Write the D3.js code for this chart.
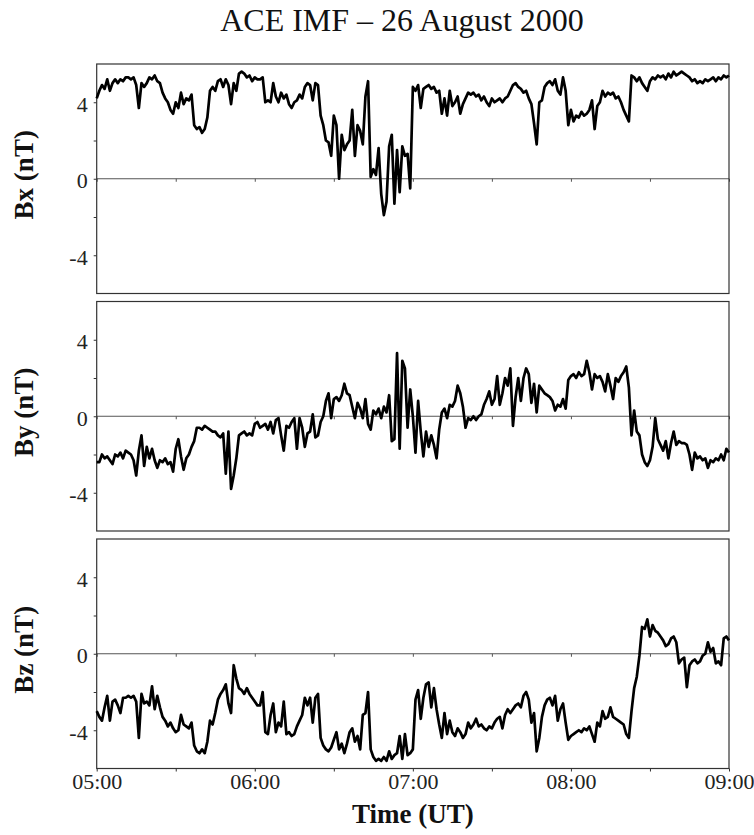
<!DOCTYPE html>
<html>
<head>
<meta charset="utf-8">
<script src="https://cdn.jsdelivr.net/npm/d3@7"></script>
<style>
  body { margin: 0; background: #fff; }
  svg { font-family: "Liberation Serif", "Times New Roman", serif; }
</style>
</head>
<body>
<svg id="chart"></svg>
<script>

const width = 754;
const height = 835;
const left = 96.7;
const right = 729;
const panelTop = [64, 301.5, 539];
const panelHeight = 229.5;

// one sample per minute, 05:00 to 09:00 UT
const startTime = Date.UTC(2000, 7, 26, 5, 0);
const hourTicks = ["05:00", "06:00", "07:00", "08:00", "09:00"];
const yLabelTicks = [4, 0, -4];
const yMinorTicks = [-4, -2, 0, 2, 4];
const panelLabels = ["Bx (nT)", "By (nT)", "Bz (nT)"];

const bx = [
  4.2, 4.6, 4.9, 4.7, 5.2, 4.6, 5.0, 5.2, 5.0, 5.2,
  5.1, 5.3, 5.3, 5.2, 5.3, 4.9, 3.7, 5.0, 4.8, 5.0,
  5.3, 5.2, 5.4, 5.1, 5.0, 4.5, 4.2, 4.0, 3.6, 3.4,
  4.0, 3.7, 4.5, 3.9, 4.2, 4.1, 4.4, 2.8, 2.6, 2.7,
  2.4, 2.6, 3.2, 4.6, 4.8, 4.6, 5.1, 5.2, 4.8, 5.2,
  4.9, 3.9, 5.0, 4.6, 5.5, 5.6, 5.5, 5.3, 5.4, 5.1,
  5.3, 5.2, 5.2, 5.3, 4.0, 4.1, 4.0, 5.0, 4.3, 4.0,
  4.5, 4.2, 4.4, 3.9, 3.7, 4.0, 4.1, 4.4, 4.2, 4.8,
  5.0, 4.9, 4.1, 5.0, 4.9, 3.3, 2.8, 2.0, 1.9, 1.2,
  3.3, 2.8, 0.0, 2.3, 1.5, 1.8, 2.0, 3.6, 1.2, 2.8,
  2.5, 1.8, 4.3, 5.1, 0.1, 0.5, 0.2, 1.6, -0.8, -1.9,
  -1.2, 1.7, 2.3, -1.3, 1.5, -0.7, 1.7, 1.2, 1.3, -0.5,
  4.8, 4.6, 4.9, 3.7, 4.7, 4.8, 4.9, 4.7, 4.8, 4.5,
  4.6, 3.4, 4.2, 3.3, 4.6, 3.8, 4.0, 4.3, 3.4, 3.9,
  4.2, 4.5, 4.4, 4.5, 4.3, 4.4, 4.1, 4.3, 4.0, 3.8,
  4.2, 4.0, 4.1, 4.2, 4.0, 4.2, 4.3, 4.6, 4.9, 5.0,
  4.8, 4.7, 4.5, 4.6, 4.2, 3.9, 2.9, 1.8, 4.0, 4.1,
  4.8, 5.0, 5.1, 4.9, 5.2, 4.6, 4.4, 5.3, 4.6, 2.8,
  3.6, 3.0, 3.3, 3.2, 3.5, 3.3, 3.4, 3.6, 4.1, 2.6,
  3.8, 4.0, 4.6, 4.3, 4.5, 4.4, 4.5, 4.2, 4.3, 4.0,
  3.6, 3.3, 3.0, 5.4, 5.3, 5.1, 5.3, 5.0, 4.8, 4.6,
  5.1, 5.3, 5.2, 5.4, 5.3, 5.4, 5.2, 5.5, 5.3, 5.6,
  5.4, 5.5, 5.6, 5.5, 5.4, 5.3, 5.1, 5.2, 5.0, 5.1,
  5.0, 5.2, 5.1, 5.2, 5.3, 5.1, 5.3, 5.2, 5.4, 5.3, 5.4
];

const by = [
  -2.4, -2.4, -2.0, -2.2, -2.1, -2.3, -2.5, -2.0, -2.1, -1.9,
  -2.2, -1.8, -1.9, -2.0, -2.3, -3.1, -1.8, -1.0, -2.6, -1.6,
  -2.2, -1.7, -2.3, -2.7, -2.3, -2.4, -2.2, -2.5, -2.4, -2.9,
  -1.7, -1.2, -2.1, -2.8, -2.2, -2.0, -1.6, -1.3, -0.6, -0.6,
  -0.7, -0.5, -0.6, -0.7, -0.8, -0.8, -1.0, -1.1, -0.9, -3.0,
  -0.8, -3.8, -3.1, -2.2, -1.0, -0.9, -0.8, -1.0, -0.9, -1.0,
  -0.4, -0.3, -0.6, -0.5, -0.4, -0.7, -0.3, -0.9, -0.2, -0.1,
  -1.0, -1.8, -0.5, -0.6, -0.3, -0.1, -1.7, -0.1, -0.6, -1.6,
  -0.9, -0.8, 0.1, -1.1, -1.0, -0.3, 0.0, 0.8, 1.2, -0.1,
  0.9, 1.0, 0.8, 1.1, 1.7, 1.2, 1.1, 0.5, -0.1, 0.7,
  0.4, -0.1, 0.9, -0.4, -0.7, 0.3, 0.1, 0.4, -0.1, 0.5,
  0.2, 1.1, -1.3, -1.2, 3.3, -1.7, 2.9, 2.5, -0.6, 1.4,
  0.0, -1.9, 0.8, -0.8, -2.1, -0.8, -1.6, -1.0, -1.5, -2.2,
  -0.7, 0.2, 0.4, -0.1, 0.6, 0.5, 0.8, 1.6, 1.2, 0.5,
  -0.6, -0.1, -0.2, 0.0, -0.2, 0.0, 0.1, 0.6, 0.9, 1.3,
  0.6, 0.9, 2.1, 0.6, 1.2, 2.0, 1.6, 2.5, -0.5, 1.0,
  2.0, 0.8, 2.0, 2.5, 2.2, 0.7, 1.7, 0.2, 1.6, 1.4,
  1.2, 1.1, 1.0, 0.8, 0.3, 0.6, 0.5, 0.9, 0.4, 1.9,
  2.1, 2.2, 2.0, 2.3, 2.1, 2.2, 2.9, 2.3, 1.4, 2.2,
  2.0, 2.1, 1.8, 1.3, 2.2, 1.6, 0.9, 2.0, 1.8, 2.1,
  2.3, 2.6, 1.5, -1.0, 0.3, -0.8, -1.0, -2.0, -2.4, -2.6,
  -2.3, -1.6, -0.1, -1.2, -1.5, -1.8, -1.3, -2.2, -1.4, -0.8,
  -1.5, -1.3, -1.4, -1.4, -1.5, -2.0, -2.8, -1.9, -2.2, -2.1,
  -2.3, -2.2, -2.7, -2.3, -2.4, -2.2, -2.3, -2.0, -2.3, -1.7, -1.9
];

const bz = [
  -3.0, -3.3, -3.5, -2.8, -2.2, -3.5, -2.5, -2.4, -2.7, -3.1,
  -2.3, -2.3, -2.2, -2.3, -2.2, -2.5, -4.4, -2.1, -2.6, -2.5,
  -2.7, -1.7, -2.9, -2.2, -2.8, -3.3, -3.5, -3.8, -3.6, -3.9,
  -4.1, -4.0, -3.2, -3.7, -3.8, -3.9, -3.6, -4.8, -5.1, -5.2,
  -5.0, -5.2, -4.6, -3.5, -3.7, -3.1, -2.4, -2.1, -1.9, -1.6,
  -2.6, -3.1, -0.6, -1.3, -1.8, -1.9, -2.1, -1.8, -2.1, -2.3,
  -2.5, -2.7, -2.7, -2.0, -4.1, -4.2, -3.2, -2.6, -4.1, -3.6,
  -3.8, -2.5, -4.2, -4.1, -4.3, -4.2, -3.8, -3.5, -3.2, -2.3,
  -2.7, -2.3, -3.6, -2.3, -2.1, -4.4, -4.8, -5.0, -5.1, -4.9,
  -4.5, -4.1, -5.0, -4.7, -5.2, -4.7, -4.1, -3.9, -4.6, -4.3,
  -5.0, -3.2, -3.1, -2.0, -5.0, -5.4, -5.6, -5.5, -5.6, -5.4,
  -5.6, -5.1, -5.5, -5.3, -5.2, -4.3, -5.5, -4.2, -5.3, -5.2,
  -5.0, -2.4, -1.9, -3.4, -2.3, -1.6, -1.5, -2.8, -1.8, -2.9,
  -3.7, -4.4, -3.1, -4.2, -3.5, -4.1, -4.3, -3.9, -4.1, -4.4,
  -4.2, -3.6, -3.9, -3.7, -3.4, -3.8, -3.7, -3.9, -4.0, -3.8,
  -3.9, -3.6, -3.4, -3.3, -3.9, -3.2, -2.9, -3.1, -2.9, -2.7,
  -2.6, -2.8, -2.2, -2.0, -2.4, -3.6, -3.1, -5.1, -4.4, -3.3,
  -2.7, -2.4, -2.3, -2.7, -2.2, -3.5, -2.9, -2.6, -3.6, -4.5,
  -4.3, -4.2, -4.1, -4.0, -4.1, -3.9, -4.0, -3.8, -4.2, -4.6,
  -3.6, -3.8, -3.0, -3.4, -3.3, -2.8, -3.3, -3.4, -3.5, -3.6,
  -3.7, -4.2, -4.4, -3.0, -1.8, -1.2, -0.1, 1.4, 1.3, 1.8,
  0.9, 1.5, 1.2, 1.1, 0.9, 0.7, 0.4, 0.5, 0.8, 0.9,
  0.6, -0.5, -0.3, -0.2, -1.75, -0.6, -0.4, -0.3, -0.5, -0.4,
  -0.1, 0.0, 0.6, 0.1, 0.3, -0.5, -0.4, -0.6, 0.8, 0.9, 0.7
];

const series = [bx, by, bz];

const timeAt = i => new Date(startTime + i * 60000);

const svg = d3.select("#chart")
              .attr("width", width)
              .attr("height", height);

const xScale = d3.scaleUtc()
                 .domain([timeAt(0), timeAt(240)])
                 .range([left, right]);

const hourDates = hourTicks.map((h, i) => timeAt(i * 60));
const halfHours = d3.utcMinute.every(30).range(timeAt(0), timeAt(241));

svg.append("text")
   .attr("x", 402)
   .attr("y", 31)
   .attr("text-anchor", "middle")
   .style("font-size", "32px")
   .attr("fill", "#111")
   .text("ACE IMF \u2013 26 August 2000");

series.forEach((values, p) => {

    const top = panelTop[p];
    const bottom = top + panelHeight;

    const yScale = d3.scaleLinear()
                     .domain([-6, 6])
                     .range([bottom, top]);

    const g = svg.append("g");

    // zero line with half-hour ticks hanging below it
    g.append("line")
     .attr("x1", left)
     .attr("x2", right)
     .attr("y1", yScale(0))
     .attr("y2", yScale(0))
     .attr("stroke", "#555")
     .attr("stroke-width", 1);

    const zeroAxis = g.append("g")
                      .attr("transform", `translate(0, ${yScale(0)})`)
                      .call(d3.axisBottom(xScale).tickValues(halfHours).tickSize(3).tickFormat(""));
    zeroAxis.select(".domain").remove();
    zeroAxis.selectAll("line").attr("stroke", "#555");

    const yAxis = g.append("g")
                   .attr("transform", `translate(${left}, 0)`)
                   .call(d3.axisLeft(yScale)
                           .tickValues(yMinorTicks)
                           .tickSize(3)
                           .tickPadding(6)
                           .tickFormat(d => yLabelTicks.includes(d) ? String(d) : ""));
    yAxis.select(".domain").remove();
    yAxis.selectAll("line").attr("stroke", "#333");
    yAxis.selectAll("text")
         .attr("dy", "0.4em")
         .attr("fill", "#222")
         .style("font-size", "22px")
         .style("font-family", "'Liberation Serif', 'Times New Roman', serif");

    g.append("rect")
     .attr("x", left)
     .attr("y", top)
     .attr("width", right - left)
     .attr("height", panelHeight)
     .attr("fill", "none")
     .attr("stroke", "#333")
     .attr("stroke-width", 1.2);

    const line = d3.line()
                   .x((d, i) => xScale(timeAt(i)))
                   .y(d => yScale(d));

    g.append("path")
     .datum(values)
     .attr("d", line)
     .attr("fill", "none")
     .attr("stroke", "#000")
     .attr("stroke-width", 2.7)
     .attr("stroke-linejoin", "round");

    g.append("text")
     .attr("transform", `translate(33, ${(top + bottom) / 2 - 4}) rotate(-90)`)
     .attr("text-anchor", "middle")
     .style("font-size", "27px")
     .style("font-weight", "bold")
     .attr("fill", "#111")
     .text(panelLabels[p]);

    if (p === series.length - 1) {
        const minorAxis = g.append("g")
                           .attr("transform", `translate(0, ${bottom})`)
                           .call(d3.axisBottom(xScale).tickValues(halfHours).tickSize(3).tickFormat(""));
        minorAxis.select(".domain").remove();
        minorAxis.selectAll("line").attr("stroke", "#333");

        const xAxis = g.append("g")
                       .attr("transform", `translate(0, ${bottom})`)
                       .call(d3.axisBottom(xScale)
                               .tickValues(hourDates)
                               .tickSize(0)
                               .tickPadding(5)
                               .tickFormat((d, i) => hourTicks[i]));
        xAxis.select(".domain").remove();
        xAxis.selectAll("text")
             .attr("fill", "#222")
             .style("font-size", "22px")
             .style("font-family", "'Liberation Serif', 'Times New Roman', serif");
    }
});

svg.append("text")
   .attr("x", (left + right) / 2)
   .attr("y", 823)
   .attr("text-anchor", "middle")
   .style("font-size", "27px")
   .style("font-weight", "bold")
   .attr("fill", "#111")
   .text("Time (UT)");

</script>
</body>
</html>
